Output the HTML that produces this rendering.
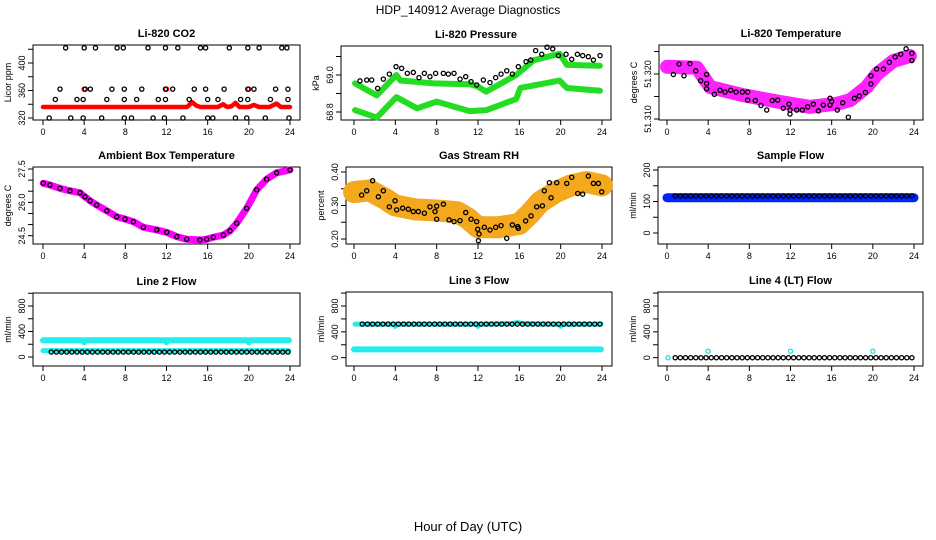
<!DOCTYPE html>
<html><head><meta charset="utf-8">
<style>
html,body{margin:0;padding:0;background:#fff;}
svg{display:block;font-family:"Liberation Sans",sans-serif;}
</style></head>
<body>
<svg id="chart" width="936" height="540" viewBox="0 0 936 540" xmlns="http://www.w3.org/2000/svg">
<text x="468" y="14" text-anchor="middle" font-size="12">HDP_140912  Average Diagnostics</text>
<text x="468" y="531" text-anchor="middle" font-size="13">Hour of Day (UTC)</text>
</svg>
<script>
// ---------- DATA ----------
const xTicks = [0,4,8,12,16,20,24];
// CO2
const co2Hours = [2.2,4.0,5.1,7.2,7.8,10.2,11.9,13.1,15.3,15.8,18.1,19.9,21.0,23.2,23.7,
 1.65,4.1,4.6,6.7,7.9,9.6,11.9,12.6,14.7,15.8,17.6,19.9,20.5,22.6,23.8,
 1.2,3.3,3.9,6.2,7.9,9.1,11.2,11.9,14.2,16.0,17.0,19.2,19.9,22.1,23.8,
 0.6,2.7,3.9,5.7,7.9,8.6,10.7,11.8,13.6,16.0,16.5,18.7,19.8,21.6,23.9];
const co2Vals = [422,422,422,422,422,422,422,422,422,422,422,422,422,422,422,
 362,362,362,362,362,362,362,362,362,362,362,362,362,362,362,
 347,347,347,347,347,347,347,347,347,347,347,347,347,347,347,
 320,320,320,320,320,320,320,320,320,320,320,320,320,320,320];
const co2BandHours = [0,4,8,12,14,14.5,14.9,15.3,17,17.5,17.9,18.3,18.7,19.1,20,20.5,21,22,22.7,23.1,24];
const co2BandVals  = [336,336,336,336,336,343,338,336,336,340,336,337,342,336,336,339,336,336,341,336,336];
const co2RedHours = [4,12,20];
const co2RedVals = [362,362,362];
// Pressure
const presHours = [0.58,1.23,1.71,2.29,2.84,3.42,4.07,4.61,5.16,5.74,6.29,6.81,7.35,7.9,8.65,9.13,9.68,10.26,10.81,11.33,11.87,12.52,13.16,13.71,14.23,14.78,15.33,15.9,16.65,17.1,17.58,18.17,18.68,19.23,19.78,20.52,21.07,21.62,22.13,22.68,23.17,23.81];
const presVals = [68.968,68.973,68.973,68.928,68.978,69.005,69.045,69.036,69.009,69.014,68.986,69.009,68.991,69.009,69.009,69.005,69.009,68.978,68.991,68.964,68.946,68.973,68.959,68.986,69.005,69.023,69.005,69.045,69.072,69.081,69.132,69.112,69.150,69.141,69.105,69.112,69.085,69.112,69.105,69.099,69.081,69.105];
const presUpHours = [0.1,2.2,4.1,4.5,7.7,11.2,11.9,12.8,15.7,17.4,19.9,20.6,23.8];
const presUpVals  = [68.955,68.89,69.0,68.97,68.955,68.95,68.94,68.91,69.0,69.08,69.115,69.055,69.05];
const presLoHours = [0.1,2.2,4.1,6.1,8.0,11.2,12.8,15.7,16.1,19.9,20.6,23.8];
const presLoVals  = [68.81,68.77,68.88,68.82,68.856,68.805,68.81,68.87,68.93,68.97,68.93,68.915];
// Li-820 temperature
const tempHours = [0.62,1.17,1.65,2.23,2.79,3.27,3.85,3.85,3.85,4.6,5.15,5.64,6.19,6.71,7.32,7.84,7.84,8.58,9.13,9.69,10.23,10.76,11.3,11.85,11.95,11.95,12.6,13.15,13.67,14.22,14.71,15.19,15.84,15.84,16.0,16.55,17.07,17.62,18.21,18.69,19.28,19.82,19.82,20.37,21.03,21.61,22.17,22.71,23.23,23.79,23.79];
const tempVals = [51.3199,51.3222,51.3196,51.3223,51.3207,51.3185,51.3199,51.3179,51.3167,51.3155,51.3164,51.316,51.3164,51.316,51.316,51.316,51.3142,51.3141,51.313,51.312,51.3141,51.3142,51.3124,51.3133,51.312,51.3111,51.312,51.312,51.3127,51.3133,51.3118,51.3131,51.3146,51.3131,51.3139,51.312,51.3136,51.3104,51.3146,51.3151,51.3159,51.3178,51.3196,51.3211,51.3211,51.3226,51.3238,51.3244,51.3256,51.3246,51.3230];
const tempBandHours = [0.0,2.9,4.2,7.4,10.7,13.9,16.5,17.8,19.4,20.4,22.0,23.6];
const tempBandVals  = [51.3216,51.3214,51.3171,51.3153,51.3139,51.3127,51.3134,51.3142,51.3171,51.320,51.3229,51.324];
// Ambient box temperature
const ambHours = [0.03,0.68,1.65,2.62,3.6,4.08,4.57,5.22,6.2,7.16,7.97,8.78,9.75,11.05,12.02,13.0,13.96,15.25,15.9,16.55,17.53,18.17,18.82,19.79,20.76,21.73,22.7,24.0];
const ambVals  = [26.86,26.78,26.63,26.52,26.43,26.25,26.07,25.88,25.62,25.35,25.25,25.13,24.88,24.76,24.65,24.46,24.34,24.31,24.34,24.43,24.53,24.72,25.06,25.73,26.56,27.04,27.33,27.46];
// Gas stream RH
const rhHours = [0.74,1.23,1.8,2.36,2.84,3.42,3.97,4.13,4.71,5.26,5.74,6.23,6.81,7.35,7.84,8.0,8.0,8.65,9.2,9.68,10.26,10.81,11.33,11.87,11.97,12.1,12.04,12.61,13.16,13.71,14.23,14.78,15.33,15.84,15.9,16.61,17.13,17.68,18.23,18.42,18.91,19.07,19.62,20.59,21.07,21.65,22.13,22.68,23.17,23.65,23.97];
const rhVals  = [0.331,0.344,0.374,0.326,0.344,0.296,0.314,0.287,0.292,0.289,0.282,0.282,0.277,0.296,0.282,0.298,0.259,0.304,0.257,0.252,0.255,0.279,0.259,0.252,0.229,0.215,0.195,0.235,0.227,0.235,0.240,0.202,0.242,0.237,0.232,0.254,0.269,0.296,0.299,0.344,0.368,0.323,0.368,0.366,0.384,0.336,0.334,0.388,0.366,0.366,0.341];
const rhBandHours = [0,1.5,3,4,6,8,10,11,12,14,16,17,18,19.5,21,22.5,24];
const rhBandVals  = [0.34,0.345,0.32,0.30,0.288,0.285,0.28,0.262,0.235,0.235,0.245,0.275,0.31,0.34,0.36,0.37,0.36];
// Flows
const flowHours = [0.8,1.3,1.8,2.3,2.8,3.3,3.8,4.3,4.8,5.3,5.8,6.3,6.8,7.3,7.8,8.3,8.8,9.3,9.8,10.3,10.8,11.3,11.8,12.3,12.8,13.3,13.8,14.3,14.8,15.3,15.8,16.3,16.8,17.3,17.8,18.3,18.8,19.3,19.8,20.3,20.8,21.3,21.8,22.3,22.8,23.3,23.8];
const sampleVals = [118,118,118,118,118,118,118,118,118,118,118,118,118,118,118,118,118,118,118,118,118,118,118,118,118,118,118,118,118,118,118,118,118,118,118,118,118,118,118,118,118,118,118,118,118,118,118];
const sampleBandHours = [0,24];
const sampleBandVals = [112,112];
const line2Vals = [78,78,78,78,78,78,78,78,78,78,78,78,78,78,78,78,78,78,78,78,78,78,78,78,78,78,78,78,78,78,78,78,78,78,78,78,78,78,78,78,78,78,78,78,78,78,78];
const line2UpHours = [0,3.9,4.0,4.1,11.9,12.0,12.1,19.9,20.0,20.1,23.9];
const line2UpVals  = [262,262,232,262,262,232,262,262,232,262,262];
const line2LoHours = [0,23.9];
const line2LoVals  = [100,100];
const line3Vals = [520,520,520,520,520,520,520,520,520,520,520,520,520,520,520,520,520,520,520,520,520,520,520,520,520,520,520,520,520,520,520,520,520,520,520,520,520,520,520,520,520,520,520,520,520,520,520];
const line3UpHours = [0.1,3.9,4.0,4.1,11.9,12.0,12.1,15.3,15.8,16.4,19.9,20.0,20.1,23.9];
const line3UpVals  = [520,520,485,520,520,485,520,525,545,525,520,485,520,520];
const line3LoHours = [0,23.9];
const line3LoVals  = [128,128];
const line4Vals = [0,0,0,0,0,0,0,0,0,0,0,0,0,0,0,0,0,0,0,0,0,0,0,0,0,0,0,0,0,0,0,0,0,0,0,0,0,0,0,0,0,0,0,0,0,0,0];
const line4CyanHours = [0.1,4.0,12.0,20.0];
const line4CyanVals = [0,100,100,100];

// ---------- DRAWING ----------
const NS = "http://www.w3.org/2000/svg";
const svg = document.getElementById('chart');
function mk(tag, parent){ const e=document.createElementNS(NS,tag); parent.appendChild(e); return e; }

function makePanel(p){
  const g = mk('g', svg);
  
  
  const [L,T,R,B] = p.box;
  p.sx = h => p.x0 + (p.x24 - p.x0) * h / 24;
  p.sy = v => p.y1 + (p.y2 - p.y1) * (v - p.v1) / (p.v2 - p.v1);
  const title = mk('text', g);
  
  
  title.setAttribute('x', (L+R)/2); title.setAttribute('y', T-8);
  title.setAttribute('text-anchor','middle'); title.setAttribute('font-size','11'); title.setAttribute('font-weight','bold');
  title.textContent = p.title;
  const frame = mk('rect', g);
  
  
  frame.setAttribute('x',L); frame.setAttribute('y',T); frame.setAttribute('width',R-L); frame.setAttribute('height',B-T);
  frame.setAttribute('fill','none'); frame.setAttribute('stroke','#000'); frame.setAttribute('stroke-width','1');
  xTicks.forEach(t=>{
    const x=p.sx(t);
    const tk=mk('line',g);
    
    
    tk.setAttribute('x1',x);tk.setAttribute('x2',x);tk.setAttribute('y1',B);tk.setAttribute('y2',B+5);tk.setAttribute('stroke','#000');
    const tl=mk('text',g);
    
    
    tl.setAttribute('x',x);tl.setAttribute('y',B+15);tl.setAttribute('text-anchor','middle');tl.setAttribute('font-size','9');
    tl.textContent=t;
  });
  p.yTicks.forEach(v=>{
    const y=p.sy(v);
    const tk=mk('line',g);
    
    
    tk.setAttribute('x1',L);tk.setAttribute('x2',L-5);tk.setAttribute('y1',y);tk.setAttribute('y2',y);tk.setAttribute('stroke','#000');
  });
  p.yLabels.forEach(s=>{
    const y=p.sy(parseFloat(s));
    const tl=mk('text',g);
    
    
    tl.setAttribute('x',L-8);tl.setAttribute('y',y);tl.setAttribute('text-anchor','middle');tl.setAttribute('font-size','9');
    tl.setAttribute('transform','rotate(-90 '+(L-8)+' '+y+')');
    tl.textContent=s;
  });
  const yt=mk('text',g);
  
  
  const yx=L-22, yy=(T+B)/2;
  yt.setAttribute('x',yx);yt.setAttribute('y',yy);yt.setAttribute('text-anchor','middle');yt.setAttribute('font-size','9');
  yt.setAttribute('transform','rotate(-90 '+yx+' '+yy+')');
  yt.textContent=p.ylab;
  p.g = g;
  return p;
}
function band(p, hours, vals, color, width, name){
  const pl = mk('polyline', p.g);
  
  
  pl.setAttribute('points', hours.map((h,i)=>p.sx(h)+','+p.sy(vals[i])).join(' '));
  pl.setAttribute('fill','none'); pl.setAttribute('stroke',color); pl.setAttribute('stroke-width',width);
  pl.setAttribute('stroke-linejoin','round'); pl.setAttribute('stroke-linecap','round');
}
function points(p, hours, vals, color, name, r){
  hours.forEach((h,i)=>{
    const c = mk('circle', p.g);
    
    
    c.setAttribute('cx', p.sx(h)); c.setAttribute('cy', p.sy(vals[i])); c.setAttribute('r', r||2.1);
    c.setAttribute('fill','none'); c.setAttribute('stroke',color); c.setAttribute('stroke-width','1.3');
  });
}

const P1 = makePanel({name:'co2',title:'Li-820 CO2',ylab:'Licor ppm',box:[33,45,300,120],x0:43,x24:290,v1:320,y1:118,v2:400,y2:63,yTicks:[320,340,360,380,400,420],yLabels:['320','360','400']});
band(P1, co2BandHours, co2BandVals, '#ff0000', 4.5, 'co2-red-series');
points(P1, co2RedHours, co2RedVals, '#ff0000', 'co2-red-point');
points(P1, co2Hours, co2Vals, '#000', 'co2-point');

const P2 = makePanel({name:'pressure',title:'Li-820 Pressure',ylab:'kPa',box:[341,46,611,120],x0:354,x24:602,v1:68.8,y1:112,v2:69.0,y2:75,yTicks:[68.8,68.9,69.0,69.1],yLabels:['68.8','69.0']});
band(P2, presUpHours, presUpVals, '#22dd22', 6, 'pressure-upper-green-series');
band(P2, presLoHours, presLoVals, '#22dd22', 6, 'pressure-lower-green-series');
points(P2, presHours, presVals, '#000', 'pressure-point');

const P3 = makePanel({name:'li820-temp',title:'Li-820 Temperature',ylab:'degrees C',box:[659,45,923,120],x0:667,x24:914,v1:51.31,y1:119,v2:51.32,y2:74,yTicks:[51.31,51.315,51.32,51.325],yLabels:['51.310','51.320']});
band(P3, tempBandHours, tempBandVals, '#ff22ff', 14, 'li820-temp-magenta-series');
points(P3, tempHours, tempVals, '#000', 'li820-temp-point');

const P4 = makePanel({name:'ambient',title:'Ambient Box Temperature',ylab:'degrees C',box:[33,167,300,244],x0:43,x24:290,v1:24.5,y1:235.7,v2:27.5,y2:169,yTicks:[24.5,25,25.5,26,26.5,27,27.5],yLabels:['24.5','26.0','27.5']});
band(P4, ambHours, ambVals, '#ff00ff', 7, 'ambient-magenta-series');
points(P4, ambHours, ambVals, '#000', 'ambient-point');

const P5 = makePanel({name:'gas-rh',title:'Gas Stream RH',ylab:'percent',box:[346,167,612,244],x0:354,x24:602,v1:0.2,y1:239,v2:0.4,y2:172,yTicks:[0.2,0.25,0.3,0.35,0.4],yLabels:['0.20','0.30','0.40']});
band(P5, rhBandHours, rhBandVals, '#f4a81e', 22, 'gas-rh-orange-series');
points(P5, rhHours, rhVals, '#000', 'gas-rh-point');

const P6 = makePanel({name:'sample-flow',title:'Sample Flow',ylab:'ml/min',box:[658,167,923,244],x0:667,x24:914,v1:0,y1:233,v2:200,y2:170,yTicks:[0,50,100,150,200],yLabels:['0','100','200']});
band(P6, sampleBandHours, sampleBandVals, '#0022ff', 9, 'sample-flow-blue-series');
points(P6, flowHours, sampleVals, '#000', 'sample-flow-point');

const P7 = makePanel({name:'line2-flow',title:'Line 2 Flow',ylab:'ml/min',box:[33,293,300,366],x0:43,x24:290,v1:0,y1:357,v2:800,y2:306,yTicks:[0,200,400,600,800,1000],yLabels:['0','400','800']});
band(P7, line2UpHours, line2UpVals, '#22eeee', 6, 'line2-cyan-upper-series');
band(P7, line2LoHours, line2LoVals, '#22eeee', 5, 'line2-cyan-lower-series');
points(P7, flowHours, line2Vals, '#000', 'line2-flow-point');

const P8 = makePanel({name:'line3-flow',title:'Line 3 Flow',ylab:'ml/min',box:[346,292,612,366],x0:354,x24:602,v1:0,y1:357.7,v2:800,y2:306,yTicks:[0,200,400,600,800,1000],yLabels:['0','400','800']});
band(P8, line3UpHours, line3UpVals, '#22eeee', 5, 'line3-cyan-upper-series');
band(P8, line3LoHours, line3LoVals, '#22eeee', 6, 'line3-cyan-lower-series');
points(P8, flowHours, line3Vals, '#000', 'line3-flow-point');

const P9 = makePanel({name:'line4-flow',title:'Line 4 (LT) Flow',ylab:'ml/min',box:[658,292,923,366],x0:667,x24:914,v1:0,y1:357.7,v2:800,y2:306,yTicks:[0,200,400,600,800,1000],yLabels:['0','400','800']});
points(P9, flowHours, line4Vals, '#000', 'line4-flow-point');
points(P9, line4CyanHours, line4CyanVals, '#22dddd', 'line4-cyan-point');
</script>
</body></html>
